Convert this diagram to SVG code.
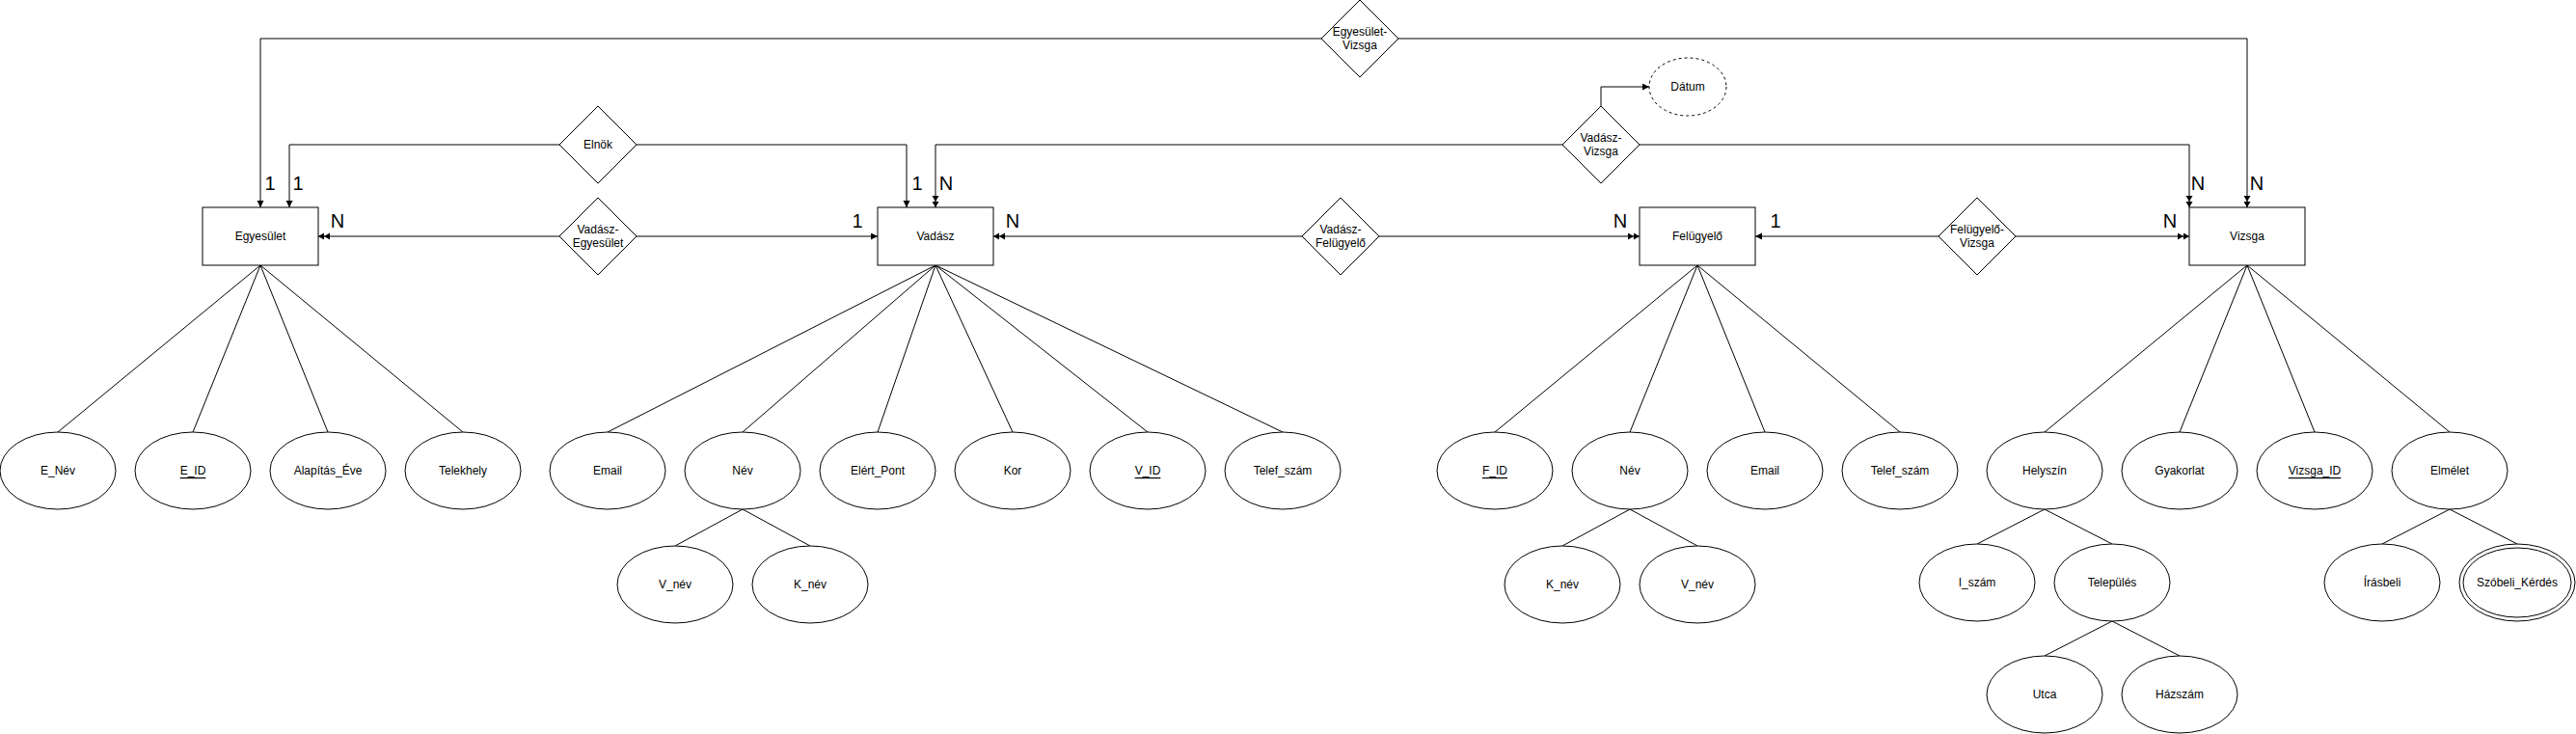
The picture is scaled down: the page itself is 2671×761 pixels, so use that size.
<svg xmlns="http://www.w3.org/2000/svg" width="2671" height="761" viewBox="0 0 2671 761">
<style>
.bg{fill:#ffffff}
.ln{fill:none;stroke:#000;stroke-width:1}
.sh{fill:#ffffff;stroke:#000;stroke-width:1}
.dash{fill:#ffffff;stroke:#000;stroke-width:1;stroke-dasharray:3,3}
.t{font-family:"Liberation Sans",Arial,sans-serif;font-size:12px;fill:#000;text-anchor:middle;dominant-baseline:central}
.u{text-decoration:underline}
.c{font-family:"Liberation Sans",Arial,sans-serif;font-size:20px;fill:#000;text-anchor:middle}
</style>
<defs>
<marker id="one" markerUnits="userSpaceOnUse" markerWidth="8" markerHeight="8" refX="7" refY="3.5" orient="auto">
<path d="M0,0 L7,3.5 L0,7 z" fill="#000"/>
</marker>
<marker id="many" markerUnits="userSpaceOnUse" markerWidth="14" markerHeight="8" refX="12" refY="3.5" orient="auto">
<path d="M0,0 L6,3.5 L0,7 z M6,0 L12,3.5 L6,7 z" fill="#000"/>
</marker>
</defs>
<rect class="bg" x="0" y="0" width="2671" height="761"/>

<g id="connectors">
<!-- Egyesület-Vizsga -->
<path class="ln" d="M1370,40 L270,40 L270,215" marker-end="url(#one)"/>
<path class="ln" d="M1450,40 L2330,40 L2330,215" marker-end="url(#many)"/>
<!-- Elnök -->
<path class="ln" d="M580,150 L300,150 L300,215" marker-end="url(#one)"/>
<path class="ln" d="M660,150 L940,150 L940,215" marker-end="url(#one)"/>
<!-- Vadász-Vizsga -->
<path class="ln" d="M1620,150 L970,150 L970,215" marker-end="url(#many)"/>
<path class="ln" d="M1700,150 L2270,150 L2270,215" marker-end="url(#many)"/>
<path class="ln" d="M1660,110 L1660,90 L1710,90" marker-end="url(#one)"/>
<!-- Vadász-Egyesület -->
<path class="ln" d="M580,245 L330,245" marker-end="url(#many)"/>
<path class="ln" d="M660,245 L910,245" marker-end="url(#one)"/>
<!-- Vadász-Felügyelő -->
<path class="ln" d="M1350,245 L1030,245" marker-end="url(#many)"/>
<path class="ln" d="M1430,245 L1700,245" marker-end="url(#many)"/>
<!-- Felügyelő-Vizsga -->
<path class="ln" d="M2010,245 L1820,245" marker-end="url(#one)"/>
<path class="ln" d="M2090,245 L2270,245" marker-end="url(#many)"/>
<!-- Egyesület attributes -->
<path class="ln" d="M270,275 L60,448 M270,275 L200,448 M270,275 L340,448 M270,275 L480,448"/>
<!-- Vadász attributes -->
<path class="ln" d="M970,275 L630,448 M970,275 L770,448 M970,275 L910,448 M970,275 L1050,448 M970,275 L1190,448 M970,275 L1330,448"/>
<path class="ln" d="M770,528 L700,566 M770,528 L840,566"/>
<!-- Felügyelő attributes -->
<path class="ln" d="M1760,275 L1550,448 M1760,275 L1690,448 M1760,275 L1830,448 M1760,275 L1970,448"/>
<path class="ln" d="M1690,528 L1620,566 M1690,528 L1760,566"/>
<!-- Vizsga attributes -->
<path class="ln" d="M2330,275 L2120,448 M2330,275 L2260,448 M2330,275 L2400,448 M2330,275 L2540,448"/>
<path class="ln" d="M2120,528 L2050,564 M2120,528 L2190,564"/>
<path class="ln" d="M2190,644 L2120,680 M2190,644 L2260,680"/>
<path class="ln" d="M2540,528 L2470,564 M2540,528 L2610,564"/>
<!-- cardinalities -->
<text class="c" x="280" y="197">1</text>
<text class="c" x="309" y="197">1</text>
<text class="c" x="951" y="197">1</text>
<text class="c" x="981" y="197">N</text>
<text class="c" x="2279" y="197">N</text>
<text class="c" x="2340" y="197">N</text>
<text class="c" x="350" y="236">N</text>
<text class="c" x="889" y="236">1</text>
<text class="c" x="1050" y="236">N</text>
<text class="c" x="1680" y="236">N</text>
<text class="c" x="1841" y="236">1</text>
<text class="c" x="2250" y="236">N</text>
</g>

<!-- Entities -->
<g id="egyesulet"><rect class="sh" x="210" y="215" width="120" height="60"/><text class="t" x="270" y="245">Egyesület</text></g>
<g id="vadasz"><rect class="sh" x="910" y="215" width="120" height="60"/><text class="t" x="970" y="245">Vadász</text></g>
<g id="felugyelo"><rect class="sh" x="1700" y="215" width="120" height="60"/><text class="t" x="1760" y="245">Felügyelő</text></g>
<g id="vizsga"><rect class="sh" x="2270" y="215" width="120" height="60"/><text class="t" x="2330" y="245">Vizsga</text></g>

<!-- Relationships -->
<g id="rel-egyesulet-vizsga"><path class="sh" d="M1410,0 L1450,40 L1410,80 L1370,40 z"/><text class="t" x="1410" y="33">Egyesület-</text><text class="t" x="1410" y="47">Vizsga</text></g>
<g id="rel-elnok"><path class="sh" d="M620,110 L660,150 L620,190 L580,150 z"/><text class="t" x="620" y="150">Elnök</text></g>
<g id="rel-vadasz-vizsga"><path class="sh" d="M1660,110 L1700,150 L1660,190 L1620,150 z"/><text class="t" x="1660" y="143">Vadász-</text><text class="t" x="1660" y="157">Vizsga</text></g>
<g id="rel-vadasz-egyesulet"><path class="sh" d="M620,205 L660,245 L620,285 L580,245 z"/><text class="t" x="620" y="238">Vadász-</text><text class="t" x="620" y="252">Egyesület</text></g>
<g id="rel-vadasz-felugyelo"><path class="sh" d="M1390,205 L1430,245 L1390,285 L1350,245 z"/><text class="t" x="1390" y="238">Vadász-</text><text class="t" x="1390" y="252">Felügyelő</text></g>
<g id="rel-felugyelo-vizsga"><path class="sh" d="M2050,205 L2090,245 L2050,285 L2010,245 z"/><text class="t" x="2050" y="238">Felügyelő-</text><text class="t" x="2050" y="252">Vizsga</text></g>
<g id="datum"><ellipse class="dash" cx="1750" cy="90" rx="40" ry="30"/><text class="t" x="1750" y="90">Dátum</text></g>

<!-- Egyesület attributes -->
<g id="e-nev"><ellipse class="sh" cx="60" cy="488" rx="60" ry="40"/><text class="t" x="60" y="488">E_Név</text></g>
<g id="e-id"><ellipse class="sh" cx="200" cy="488" rx="60" ry="40"/><text class="t u" x="200" y="488">E_ID</text></g>
<g id="alapitas"><ellipse class="sh" cx="340" cy="488" rx="60" ry="40"/><text class="t" x="340" y="488">Alapítás_Éve</text></g>
<g id="telekhely"><ellipse class="sh" cx="480" cy="488" rx="60" ry="40"/><text class="t" x="480" y="488">Telekhely</text></g>

<!-- Vadász attributes -->
<g id="v-email"><ellipse class="sh" cx="630" cy="488" rx="60" ry="40"/><text class="t" x="630" y="488">Email</text></g>
<g id="v-nev"><ellipse class="sh" cx="770" cy="488" rx="60" ry="40"/><text class="t" x="770" y="488">Név</text></g>
<g id="elert-pont"><ellipse class="sh" cx="910" cy="488" rx="60" ry="40"/><text class="t" x="910" y="488">Elért_Pont</text></g>
<g id="kor"><ellipse class="sh" cx="1050" cy="488" rx="60" ry="40"/><text class="t" x="1050" y="488">Kor</text></g>
<g id="v-id"><ellipse class="sh" cx="1190" cy="488" rx="60" ry="40"/><text class="t u" x="1190" y="488">V_ID</text></g>
<g id="v-telef"><ellipse class="sh" cx="1330" cy="488" rx="60" ry="40"/><text class="t" x="1330" y="488">Telef_szám</text></g>
<g id="v-vnev"><ellipse class="sh" cx="700" cy="606" rx="60" ry="40"/><text class="t" x="700" y="606">V_név</text></g>
<g id="v-knev"><ellipse class="sh" cx="840" cy="606" rx="60" ry="40"/><text class="t" x="840" y="606">K_név</text></g>

<!-- Felügyelő attributes -->
<g id="f-id"><ellipse class="sh" cx="1550" cy="488" rx="60" ry="40"/><text class="t u" x="1550" y="488">F_ID</text></g>
<g id="f-nev"><ellipse class="sh" cx="1690" cy="488" rx="60" ry="40"/><text class="t" x="1690" y="488">Név</text></g>
<g id="f-email"><ellipse class="sh" cx="1830" cy="488" rx="60" ry="40"/><text class="t" x="1830" y="488">Email</text></g>
<g id="f-telef"><ellipse class="sh" cx="1970" cy="488" rx="60" ry="40"/><text class="t" x="1970" y="488">Telef_szám</text></g>
<g id="f-knev"><ellipse class="sh" cx="1620" cy="606" rx="60" ry="40"/><text class="t" x="1620" y="606">K_név</text></g>
<g id="f-vnev"><ellipse class="sh" cx="1760" cy="606" rx="60" ry="40"/><text class="t" x="1760" y="606">V_név</text></g>

<!-- Vizsga attributes -->
<g id="helyszin"><ellipse class="sh" cx="2120" cy="488" rx="60" ry="40"/><text class="t" x="2120" y="488">Helyszín</text></g>
<g id="gyakorlat"><ellipse class="sh" cx="2260" cy="488" rx="60" ry="40"/><text class="t" x="2260" y="488">Gyakorlat</text></g>
<g id="vizsga-id"><ellipse class="sh" cx="2400" cy="488" rx="60" ry="40"/><text class="t u" x="2400" y="488">Vizsga_ID</text></g>
<g id="elmelet"><ellipse class="sh" cx="2540" cy="488" rx="60" ry="40"/><text class="t" x="2540" y="488">Elmélet</text></g>
<g id="i-szam"><ellipse class="sh" cx="2050" cy="604" rx="60" ry="40"/><text class="t" x="2050" y="604">I_szám</text></g>
<g id="telepules"><ellipse class="sh" cx="2190" cy="604" rx="60" ry="40"/><text class="t" x="2190" y="604">Település</text></g>
<g id="utca"><ellipse class="sh" cx="2120" cy="720" rx="60" ry="40"/><text class="t" x="2120" y="720">Utca</text></g>
<g id="hazszam"><ellipse class="sh" cx="2260" cy="720" rx="60" ry="40"/><text class="t" x="2260" y="720">Házszám</text></g>
<g id="irasbeli"><ellipse class="sh" cx="2470" cy="604" rx="60" ry="40"/><text class="t" x="2470" y="604">Írásbeli</text></g>
<g id="szobeli"><ellipse class="sh" cx="2610" cy="604" rx="60" ry="40"/><ellipse class="sh" cx="2610" cy="604" rx="56" ry="36"/><text class="t" x="2610" y="604">Szóbeli_Kérdés</text></g>
</svg>
